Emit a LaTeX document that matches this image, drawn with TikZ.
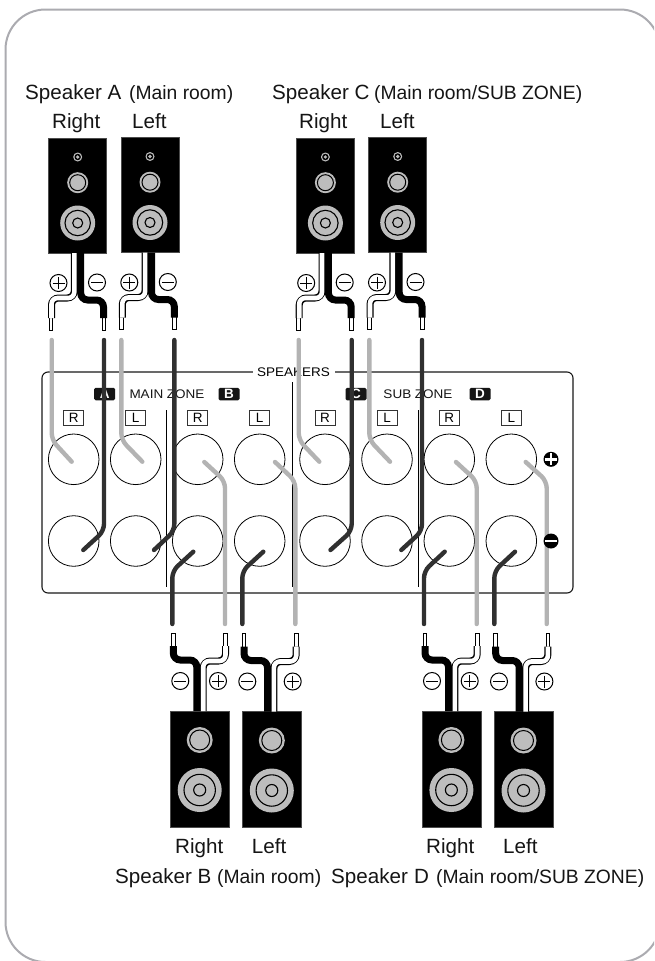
\documentclass[tikz,border=0pt]{standalone}
\usepackage{fontspec}
\usepackage{graphicx}
\setmainfont{Liberation Sans}
\definecolor{wgray}{HTML}{B3B3B3}
\definecolor{wdark}{HTML}{303030}
\definecolor{cone}{HTML}{BDBDBD}
\definecolor{frame}{HTML}{ABABB0}
\definecolor{ink}{HTML}{151515}
\newcommand{\lgtxt}[1]{{\fontsize{20.6}{22}\selectfont #1}}
\newcommand{\mdtxt}[1]{{\fontsize{19.3}{22}\selectfont #1}}
\newcommand{\smtxt}[1]{{\fontsize{12.5}{14}\selectfont\scalebox{1.08}[1]{#1}}}
\tikzset{
  x=1pt,y=-1pt,
  cabinet/.style={fill=black,draw=black!70,line width=0.6},
  wirelight/.style={draw=wgray,line width=4.4,rounded corners=7},
  wiredark/.style={draw=wdark,line width=4.4,rounded corners=7},
  post/.style={circle,draw=black,line width=0.8,minimum size=50.6,inner sep=0,fill=white},
  chan/.style={draw=black!80,line width=0.8,minimum width=20,minimum height=15.5,inner sep=0,font=\fontsize{13.5}{14}\selectfont},
  badge/.style={fill=ink,rounded corners=1.5,minimum width=21,minimum height=12.5,inner sep=0,text=white,font=\bfseries\fontsize{13.5}{14}\selectfont},
  sign/.style={circle,draw=black,line width=1,minimum size=17,inner sep=0,fill=white},
  lab/.style={anchor=base west,inner sep=0,text=ink},
  divider/.style={draw=black,line width=0.7},
}
\newcommand{\signplus}[3]{\node[sign] (#1) at (#2,#3) {};
  \draw[black,line width=1] (#1.center)+(-6,0) -- +(6,0) (#1.center)+(0,-6) -- +(0,6);}
\newcommand{\signminus}[3]{\node[sign] (#1) at (#2,#3) {};
  \draw[black,line width=1] (#1.center)+(-6,0) -- +(6,0);}
\newcommand{\wiretip}[3]{\draw[black,fill=white,line width=.9] (#1-1.9,#2) rectangle (#1+1.9,#3);}
% top speaker: #1 name, #2 box centre, #3 top, #4 cable mid
\newcommand{\topspeaker}[4]{%
  \path[cabinet] (#2-29,#3) rectangle (#2+29,#3+115);
  \fill[cone] (#2,#3+19) circle[radius=4.5];
  \fill[black] (#2,#3+19) circle[radius=3.2];
  \fill[cone] (#2,#3+19) circle[radius=1.8];
  \fill[cone] (#2,#3+44.7) circle[radius=10.5];
  \draw[black,line width=1] (#2,#3+44.7) circle[radius=8];
  \fill[cone] (#2,#3+85) circle[radius=17.5];
  \draw[black,line width=1.1] (#2,#3+85) circle[radius=12.7];
  \draw[black,line width=1.1] (#2,#3+85) circle[radius=5];
  \wiretip{#4-26.5}{#3+178}{#3+192}
  \wiretip{#4+26.5}{#3+178}{#3+192}
  \coordinate (#1plusend) at (#4-26,#3+180);
  \coordinate (#1minusend) at (#4+26,#3+180);
  \coordinate (#1plusroot) at (#4-3.2,#3+115);
  \coordinate (#1minusroot) at (#4+3.2,#3+115);
  \draw[black,line width=7,rounded corners=7] (#1plusroot) -- (#4-3.2,#3+160) -- (#4-26,#3+160) -- (#1plusend);
  \draw[white,line width=4.6,rounded corners=6] (#1plusroot) -- (#4-3.2,#3+160) -- (#4-26,#3+160) -- (#1plusend);
  \draw[black,line width=7,rounded corners=7] (#1minusroot) -- (#4+3.2,#3+162) -- (#4+26,#3+162) -- (#1minusend);
  \signplus{#1plus}{#4-19}{#3+145}
  \signminus{#1minus}{#4+19.5}{#3+144.5}
}
% bottom speaker: #1 name, #2 box centre, #3 top, #4 cable mid, #5 minus dx, #6 plus dx
\newcommand{\botspeaker}[6]{%
  \path[cabinet] (#2-29.5,#3) rectangle (#2+29.5,#3+116);
  \fill[cone] (#2,#3+29) circle[radius=13];
  \draw[black,line width=1] (#2,#3+29) circle[radius=10];
  \fill[cone] (#2,#3+79) circle[radius=22];
  \draw[black,line width=1.1] (#2,#3+79) circle[radius=15.7];
  \draw[black,line width=1.1] (#2,#3+79) circle[radius=6];
  \wiretip{#4-26.7}{#3-78}{#3-64}
  \wiretip{#4+25.5}{#3-78}{#3-64}
  \coordinate (#1minusend) at (#4-26.7,#3-65);
  \coordinate (#1plusend) at (#4+25.5,#3-65);
  \coordinate (#1minusroot) at (#4-3.2,#3);
  \coordinate (#1plusroot) at (#4+3.2,#3);
  \draw[black,line width=7,rounded corners=7] (#1minusroot) -- (#4-3.2,#3-51) -- (#4-26.7,#3-51) -- (#1minusend);
  \draw[black,line width=7,rounded corners=7] (#1plusroot) -- (#4+3.2,#3-50) -- (#4+25.5,#3-50) -- (#1plusend);
  \draw[white,line width=4.6,rounded corners=6] (#1plusroot) -- (#4+3.2,#3-50) -- (#4+25.5,#3-50) -- (#1plusend);
  \signminus{#1minus}{#4+#5}{#3-30}
  \signplus{#1plus}{#4+#6}{#3-30}
}
\begin{document}
\begin{tikzpicture}
\useasboundingbox (0,0) rectangle (654,961);
\begin{scope}
\clip (0,0) rectangle (654,961);
\fill[white] (0,0) rectangle (654,961);
\draw[frame,line width=2,rounded corners=40] (5.5,9.5) rectangle (660,962);
\end{scope}

% panel
\draw[black!90,line width=1.1,rounded corners=6] (42,372) rectangle (573,593);
\node[fill=white,inner sep=0,minimum width=82,minimum height=12] (spk) at (293.5,372) {\smtxt{SPEAKERS}};
\node[badge] (ba) at (104.7,394) {A};
\node[lab,anchor=center] (mz) at (167,394.5) {\smtxt{MAIN ZONE}};
\node[badge] (bb) at (229,394) {B};
\node[badge] (bc) at (356,394) {C};
\node[lab,anchor=center] (sz) at (418,394.5) {\smtxt{SUB ZONE}};
\node[badge] (bd) at (480,394) {D};
\draw[divider] (166.3,410) -- (166.3,587);
\draw[divider] (292.3,382) -- (292.3,587);
\draw[divider] (418.3,410) -- (418.3,587);
\foreach \n/\x/\t in {1/73.7/R,2/135.7/L,3/197.7/R,4/259.7/L,5/325/R,6/387/L,7/449.3/R,8/511.3/L}{
  \node[chan] (c\n) at (\x,418) {\t};
  \node[post] (p\n) at (\x,459.3) {};
  \node[post] (n\n) at (\x,541) {};
}

% speakers
\topspeaker{ar}{77.7}{138}{77.5}
\topspeaker{al}{150}{137.5}{148.3}
\topspeaker{cr}{325.4}{138}{325.2}
\topspeaker{cl}{397.7}{137.5}{396}
\botspeaker{br}{199.7}{711}{200}{-19.7}{18}
\botspeaker{bl}{271.8}{711.5}{270.7}{-23.4}{22}
\botspeaker{dr}{451.4}{711}{451.7}{-19.7}{18}
\botspeaker{dl}{523.5}{711.5}{522.4}{-23.4}{22}

% wires to the terminals
\coordinate (wa1) at (51.7,340); \coordinate (wa2) at (104,340);
\coordinate (wa3) at (121.3,340); \coordinate (wa4) at (174.3,340);
\coordinate (wc1) at (298.7,340); \coordinate (wc2) at (351.7,340);
\coordinate (wc3) at (369.3,340); \coordinate (wc4) at (422,340);
\coordinate (wb1) at (225,624); \coordinate (wb2) at (172.3,624);
\coordinate (wb3) at (295.3,624); \coordinate (wb4) at (242.3,624);
\coordinate (wd1) at (476.7,624); \coordinate (wd2) at (424,624);
\coordinate (wd3) at (546.7,624); \coordinate (wd4) at (494.3,624);
\begin{scope}[line cap=round]
\draw[wirelight] (wa1) -- (51.7,440) -- (71.7,461.7);
\draw[wirelight] (wa3) -- (121.3,440) -- (142.3,461.7);
\draw[wirelight] (wc1) -- (298.7,440) -- (319.3,461.7);
\draw[wirelight] (wc3) -- (369.3,440) -- (390,461.7);
\draw[wiredark] (wa2) -- (104,531) -- (83.3,550);
\draw[wiredark] (wa4) -- (174.3,531) -- (154,550);
\draw[wiredark] (wc2) -- (351.7,531) -- (330.5,550);
\draw[wiredark] (wc4) -- (422,531) -- (401.3,550);
\draw[wirelight] (wb1) -- (225,481) -- (204.3,462);
\draw[wirelight] (wb3) -- (295.3,481) -- (275,462);
\draw[wirelight] (wd1) -- (476.7,481) -- (456,462);
\draw[wirelight] (wd3) -- (546.7,481) -- (525.7,462);
\draw[wiredark] (wb2) -- (172.3,571) -- (193.3,551.7);
\draw[wiredark] (wb4) -- (242.3,571) -- (263.3,551.7);
\draw[wiredark] (wd2) -- (424,571) -- (444.7,551.7);
\draw[wiredark] (wd4) -- (494.3,571) -- (515,551.7);
\end{scope}

% polarity marks, over the wires
\node[circle,fill=black,minimum size=15,inner sep=0] (gp) at (551,459.3) {};
\draw[white,line width=2.4] (545,459.3) -- (557,459.3) (551,453.3) -- (551,465.3);
\node[circle,fill=black,minimum size=15,inner sep=0] (gm) at (551,541) {};
\draw[white,line width=2.4] (545,541) -- (557,541);

% labels
\node[lab] (t1) at (25,99) {\lgtxt{Speaker A}};
\node[lab] (t2) at (129,99) {\mdtxt{(Main room)}};
\node[lab] (t3) at (52,128) {\lgtxt{Right}};
\node[lab] (t4) at (132,128) {\lgtxt{Left}};
\node[lab] (t5) at (272,99) {\lgtxt{Speaker C}};
\node[lab] (t6) at (374,99) {\mdtxt{(Main room/SUB ZONE)}};
\node[lab] (t7) at (299,128) {\lgtxt{Right}};
\node[lab] (t8) at (380,128) {\lgtxt{Left}};
\node[lab] (t9) at (175,853) {\lgtxt{Right}};
\node[lab] (t10) at (251.7,853) {\lgtxt{Left}};
\node[lab] (t11) at (426,853) {\lgtxt{Right}};
\node[lab] (t12) at (503,853) {\lgtxt{Left}};
\node[lab] (t13) at (115,883) {\lgtxt{Speaker B}};
\node[lab] (t14) at (217,883) {\mdtxt{(Main room)}};
\node[lab] (t15) at (331,883) {\lgtxt{Speaker}};
\node[lab] (t16) at (414,883) {\lgtxt{D}};
\node[lab] (t17) at (436,883) {\mdtxt{(Main room/SUB ZONE)}};
\end{tikzpicture}
\end{document}
